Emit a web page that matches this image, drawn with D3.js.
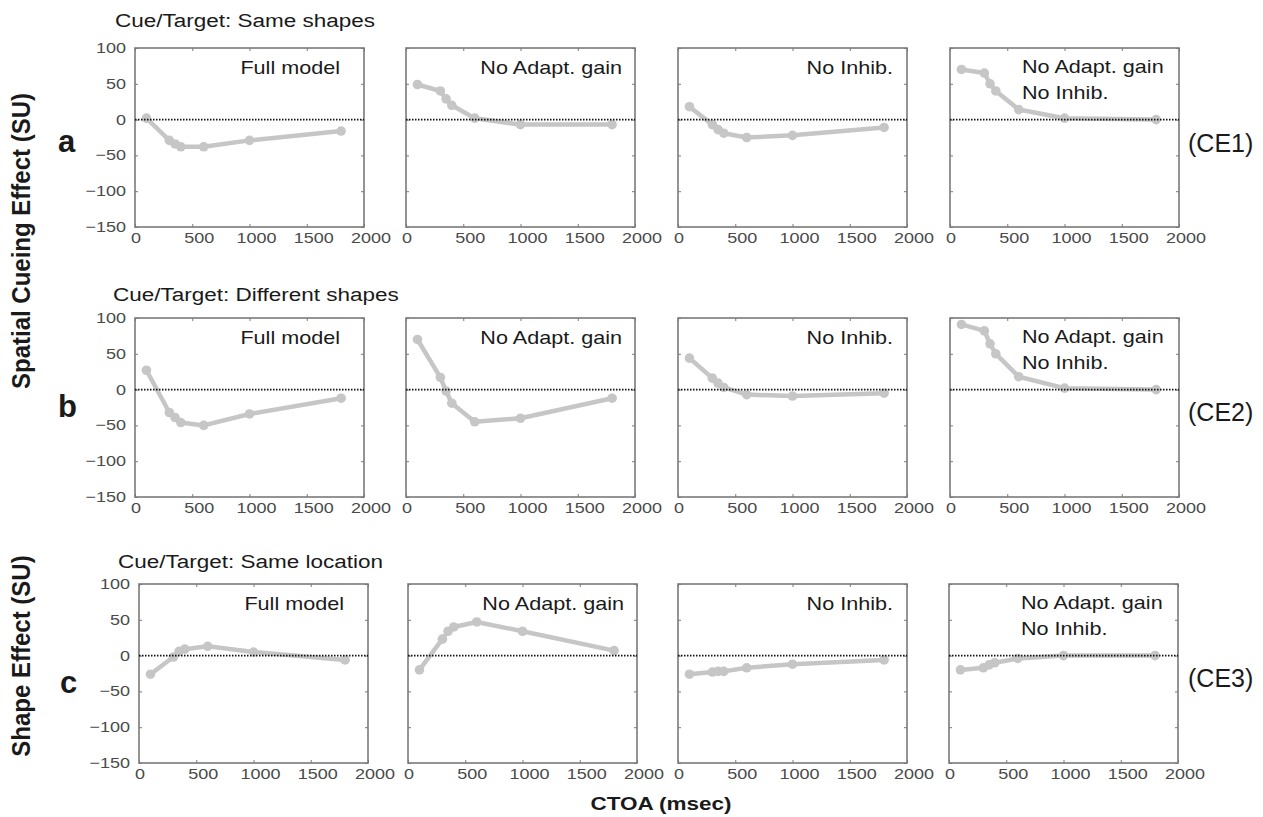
<!DOCTYPE html>
<html>
<head>
<meta charset="utf-8">
<script src="https://cdn.jsdelivr.net/npm/d3@7"></script>
<style>
  body { margin: 0; background: #fff; }
  svg { display: block; font-family: "Liberation Sans", Arial, sans-serif; }
</style>
</head>
<body>
<svg id="chart" width="1263" height="817"></svg>
<script>
'use strict';

/* Data */
var ctoa = [100, 300, 350, 400, 600, 1000, 1800];
var models = ['Full model', 'No Adapt. gain', 'No Inhib.', 'No Adapt. gain|No Inhib.'];
var rowTitles = ['Cue/Target: Same shapes', 'Cue/Target: Different shapes', 'Cue/Target: Same location'];
var rowLetters = ['a', 'b', 'c'];
var rowTags = ['(CE1)', '(CE2)', '(CE3)'];

var ce1Full    = [2, -29, -34, -38, -38, -29, -16];
var ce1NoGain  = [49, 40, 29, 20, 2, -7, -7];
var ce1NoInhib = [18, -7, -14, -19, -25, -22, -11];
var ce1Both    = [70, 65, 50, 40, 14, 2, 0];

var ce2Full    = [27, -32, -39, -46, -50, -34, -12];
var ce2NoGain  = [70, 17, -2, -19, -45, -40, -12];
var ce2NoInhib = [44, 16, 9, 3, -7, -9, -5];
var ce2Both    = [91, 82, 64, 50, 18, 2, 0];

var ce3Full    = [-26, -2, 6, 9, 13, 5, -6];
var ce3NoGain  = [-20, 23, 34, 40, 47, 34, 7];
var ce3NoInhib = [-26, -23, -22, -22, -17, -12, -6];
var ce3Both    = [-20, -17, -13, -10, -4, 0, 0];

var xTicks = [0, 500, 1000, 1500, 2000];
var yTicks = [100, 50, 0, -50, -100, -150];

var rows = [
  [ce1Full, ce1NoGain, ce1NoInhib, ce1Both],
  [ce2Full, ce2NoGain, ce2NoInhib, ce2Both],
  [ce3Full, ce3NoGain, ce3NoInhib, ce3Both]
];

/* Layout */
var SX = 1.2;            // the figure's text is stretched horizontally
var panelW = 229, panelH = 179;
var rowTop = [48, 318, 584];
var panelLeft = [
  [135, 406, 678, 950],
  [135, 406, 678, 950],
  [139, 408, 678, 949]
];
var lineColor = '#c6c6c6';
var frameColor = '#7a7a7a';
var tickText = '#4a4a4a';

var svg = d3.select('#chart');
svg.append('rect').attr('width', 1263).attr('height', 817).attr('fill', '#fff');

function label(parent, x, y, str, opts) {
  opts = opts || {};
  var t = parent.append('text')
    .attr('transform', 'translate(' + x + ',' + y + ') scale(' + (opts.sx || SX) + ',1)' +
      (opts.rotate ? ' rotate(' + opts.rotate + ')' : ''))
    .attr('text-anchor', opts.anchor || 'start')
    .attr('font-size', opts.size || 18)
    .attr('font-weight', opts.weight || 'normal')
    .attr('fill', opts.fill || '#1a1a1a')
    .text(str);
  return t;
}

var x = d3.scaleLinear().domain([0, 2000]).range([0, panelW]);
var y = d3.scaleLinear().domain([-150, 100]).range([panelH, 0]);

var line = d3.line()
  .x(function(d) { return x(d.x); })
  .y(function(d) { return y(d.y); });

rows.forEach(function(series, r) {
  /* Row title, letter and tag */
  label(svg, [115, 113, 118][r], [27, 301, 568][r], rowTitles[r], { size: 18, sx: 1.25 });
  label(svg, [58, 58, 60][r], [152, 417, 693][r], rowLetters[r],
    { size: 31, weight: 'bold', sx: 1 });
  label(svg, 1188, [152, 421, 687][r], rowTags[r], { size: 25, sx: 1 });

  series.forEach(function(vals, p) {
    var g = svg.append('g')
      .attr('transform', 'translate(' + panelLeft[r][p] + ',' + rowTop[r] + ')');

    /* Inward ticks on all four sides */
    [d3.axisLeft(y).tickValues(yTicks).tickSize(-3),
     d3.axisRight(y).tickValues(yTicks).tickSize(-3)].forEach(function(ax, i) {
      g.append('g')
        .attr('transform', 'translate(' + (i ? panelW : 0) + ',0)')
        .call(ax.tickFormat(''))
        .call(function(s) {
          s.select('.domain').remove();
          s.selectAll('line').attr('stroke', frameColor);
        });
    });
    [d3.axisBottom(x).tickValues(xTicks).tickSize(-3),
     d3.axisTop(x).tickValues(xTicks).tickSize(-3)].forEach(function(ax, i) {
      g.append('g')
        .attr('transform', 'translate(0,' + (i ? 0 : panelH) + ')')
        .call(ax.tickFormat(''))
        .call(function(s) {
          s.select('.domain').remove();
          s.selectAll('line').attr('stroke', frameColor);
        });
    });

    /* Frame */
    g.append('rect')
      .attr('width', panelW).attr('height', panelH)
      .attr('fill', 'none')
      .attr('stroke', frameColor)
      .attr('stroke-width', 1.6);

    /* Tick labels */
    xTicks.forEach(function(t) {
      label(g, x(t) + (t === 0 ? 1 : 7), panelH + 16, String(t),
        { size: 15, anchor: 'middle', fill: tickText });
    });
    if(p === 0) {
      yTicks.forEach(function(t) {
        label(g, -9, y(t) + 5, t < 0 ? '\u2212' + Math.abs(t) : String(t),
          { size: 15, anchor: 'end', fill: tickText });
      });
    }

    /* Data */
    var pts = ctoa.map(function(c, i) { return { x: c, y: vals[i] }; });
    g.append('path')
      .datum(pts)
      .attr('d', line)
      .attr('fill', 'none')
      .attr('stroke', lineColor)
      .attr('stroke-width', 4.5)
      .attr('stroke-linejoin', 'round');
    g.selectAll('.dot')
      .data(pts)
      .enter().append('circle')
        .attr('class', 'dot')
        .attr('cx', function(d) { return x(d.x); })
        .attr('cy', function(d) { return y(d.y); })
        .attr('r', 4.8)
        .attr('fill', lineColor);

    /* Zero line */
    g.append('line')
      .attr('x1', 0).attr('x2', panelW)
      .attr('y1', y(0)).attr('y2', y(0))
      .attr('stroke', '#111')
      .attr('stroke-width', 1.6)
      .attr('stroke-dasharray', '1.5,1.5');

    /* Model name */
    var names = models[p].split('|');
    if(names.length === 1) {
      label(g, panelW - [24, 13, 14][p], 26, names[0], { size: 18, anchor: 'end' });
    } else {
      names.forEach(function(n, k) {
        label(g, 72, 25 + k * 26, n, { size: 18 });
      });
    }
  });
});

/* Axis titles */
label(svg, 30, 241, 'Spatial Cueing Effect (SU)',
  { size: 24, weight: 'bold', anchor: 'middle', rotate: -90, sx: 1.1 });
label(svg, 30, 656, 'Shape Effect (SU)',
  { size: 24, weight: 'bold', anchor: 'middle', rotate: -90, sx: 1.1 });
label(svg, 661, 810, 'CTOA (msec)', { size: 18, weight: 'bold', anchor: 'middle', sx: 1.25 });
</script>
</body>
</html>
